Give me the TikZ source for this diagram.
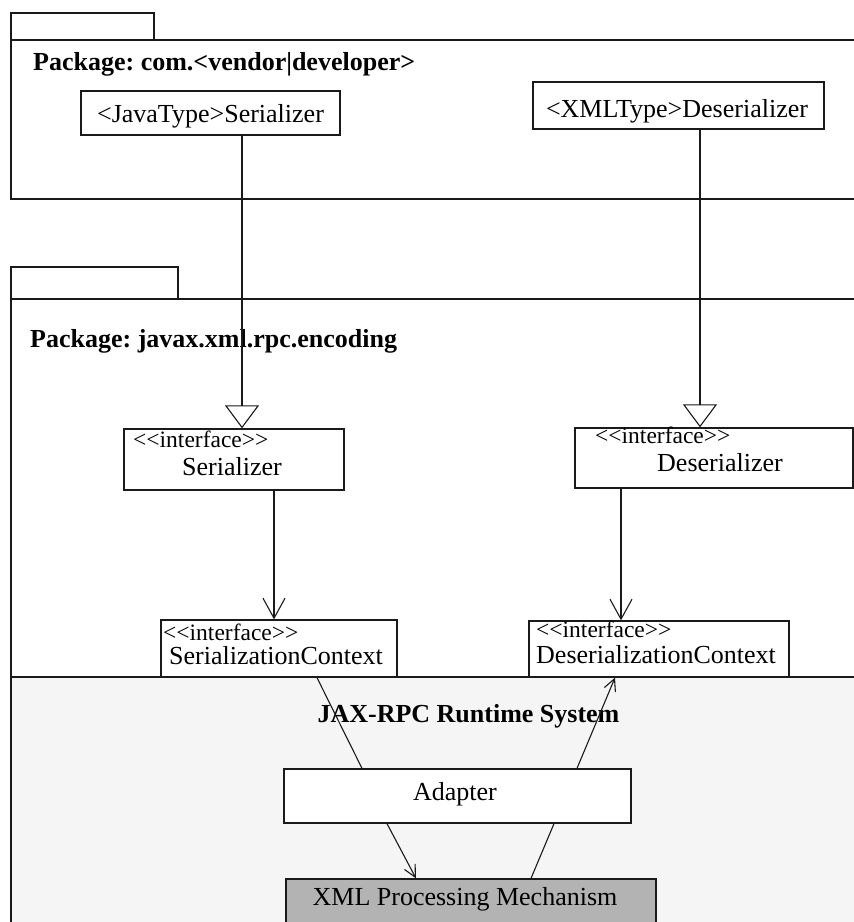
\documentclass[tikz,border=0pt]{standalone}
\usepackage{fontspec}
\setmainfont{Liberation Serif}
\usetikzlibrary{arrows.meta}
\definecolor{ink}{HTML}{1A1A1A}
\definecolor{runtime}{HTML}{F5F5F5}
\definecolor{engine}{HTML}{B3B3B3}
% stereotype brackets kept as plain angle brackets
\newcommand{\stereotype}[1]{<\kern0pt<#1>\kern0pt>}

\begin{document}
\frenchspacing
\begin{tikzpicture}[x=1pt,y=-1pt,
  frame/.style={draw=ink, line width=1.2pt},
  umlbox/.style={draw=ink, line width=1.3pt, fill=white, inner sep=0pt},
  label/.style={font=\fontsize{26}{30}\selectfont, inner sep=0pt, anchor=base},
  stereo/.style={font=\fontsize{23.5}{27}\selectfont, inner sep=0pt, anchor=base west},
  pkgtitle/.style={font=\bfseries\fontsize{26}{30}\selectfont, inner sep=0pt, anchor=base west},
  link/.style={draw=ink, line width=1.1pt},
  realizes/.style={link, -{Triangle[open, length=23pt, width=34pt]}},
  uses/.style={link, -{Straight Barb[length=20pt, width=22pt]}},
  calls/.style={link, -{Straight Barb[length=12pt, width=12pt]}}]

\clip (0,0) rectangle (854,922);
\fill[white] (0,0) rectangle (854,922);

% runtime area at the bottom
\fill[runtime] (11,677) rectangle (880,940);
\draw[frame] (11,677) -- (880,677);

% package com.<vendor|developer>
\draw[frame] (11,13) rectangle (154,40);
\draw[frame] (880,40) -- (11,40) -- (11,199) -- (880,199);
\node[pkgtitle] (pkgvendor) at (33,70) {Package: com.<vendor|developer>};

% package javax.xml.rpc.encoding
\draw[frame] (11,267) rectangle (178,299);
\draw[frame] (880,299) -- (11,299) -- (11,940);
\node[pkgtitle] (pkgenc) at (30,347) {Package: javax.xml.rpc.encoding};

% classes
\node[umlbox, minimum width=259, minimum height=44] (jts) at (210.5,113) {};
\node[label] (jtstext) at (210.5,122) {<JavaType>Serializer};

\node[umlbox, minimum width=291, minimum height=47] (xds) at (678.5,105.5) {};
\node[label] (xdstext) at (677,117) {<XMLType>Deserializer};

\node[umlbox, minimum width=220, minimum height=61] (ser) at (234,459.5) {};
\node[stereo] (serst) at (133,447) {\stereotype{interface}};
\node[label] (sertext) at (232,475) {Serializer};

\node[umlbox, minimum width=278, minimum height=60] (des) at (714,458) {};
\node[stereo] (desst) at (595,443) {\stereotype{interface}};
\node[label] (destext) at (720,471) {Deserializer};

\node[umlbox, minimum width=236, minimum height=57] (sctx) at (279,648.5) {};
\node[stereo] (sctxst) at (163,640) {\stereotype{interface}};
\node[label, anchor=base west] (sctxtext) at (169,664) {SerializationContext};

\node[umlbox, minimum width=260, minimum height=56] (dctx) at (659,649) {};
\node[stereo] (dctxst) at (536,637) {\stereotype{interface}};
\node[label, anchor=base west] (dctxtext) at (536,663) {DeserializationContext};

\node[font=\bfseries\fontsize{26}{30}\selectfont, inner sep=0pt, anchor=base] (rt) at (468.5,722) {JAX-RPC Runtime System};

\node[umlbox, minimum width=347, minimum height=54] (adp) at (457.5,796) {};
\node[label] (adptext) at (455,800) {Adapter};

\node[umlbox, fill=engine, minimum width=370, minimum height=61] (xml) at (471,909.5) {};
\node[label] (xmltext) at (465,905) {XML Processing Mechanism};

% generalisations
\draw[realizes] ([xshift=31.5]jts.south) -- ([xshift=8]ser.north);
\draw[realizes] ([xshift=21.5]xds.south) -- ([xshift=-14]des.north);

% dependencies
\draw[uses] ([xshift=40]ser.south) -- ([xshift=-5]sctx.north);
\draw[uses] ([xshift=-93]des.south) -- ([xshift=-38]dctx.north);

% runtime connections
\draw[link] ([xshift=38]sctx.south) -- ([xshift=-95.5]adp.north);
\draw[calls] ([xshift=119.5]adp.north) -- ([xshift=-44]dctx.south);
\draw[calls] ([xshift=-70.5]adp.south) -- ([xshift=-55]xml.north);
\draw[link] ([xshift=60]xml.north) -- ([xshift=96.5]adp.south);
\end{tikzpicture}
\end{document}
